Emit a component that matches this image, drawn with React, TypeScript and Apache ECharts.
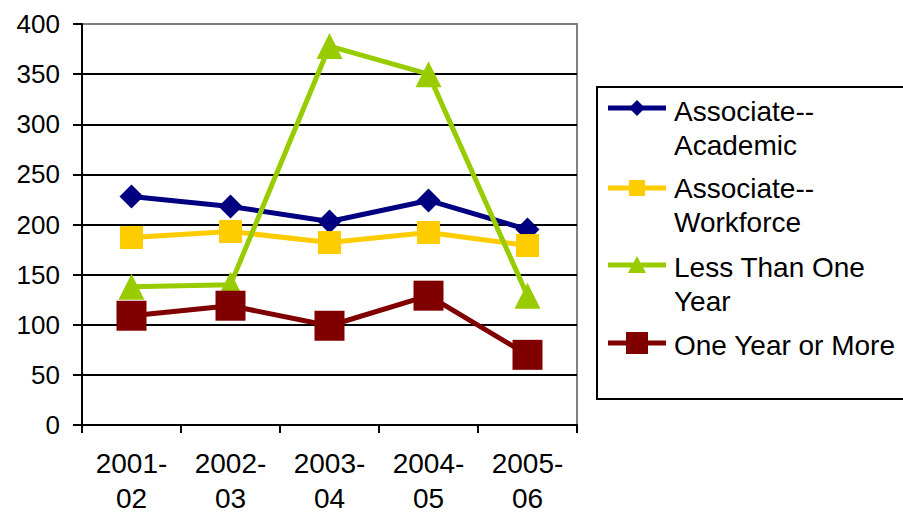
import React, { useEffect, useRef } from "react";
import * as echarts from "echarts";

const categories = ["2001-\n02", "2002-\n03", "2003-\n04", "2004-\n05", "2005-\n06"];
const seriesNames = ["Associate--Academic", "Associate--Workforce", "Less Than One Year", "One Year or More"];
const legendLabels = ["Associate--\nAcademic", "Associate--\nWorkforce", "Less Than One\nYear", "One Year or More"];
const academic = [228, 218, 203, 224, 195];
const workforce = [187, 193, 182, 192, 179];
const lessThanOne = [138, 140, 378, 350, 129];
const oneOrMore = [109, 119, 99, 129, 70];
const yTicks = { min: 0, max: 400, interval: 50 };

const colors = ["#000080", "#FFCC00", "#99CC00", "#800000"];
const symbols = ["diamond", "rect", "triangle", "rect"];
const symbolSizes = [24, 23, 26, 30];
const FONT = "'Liberation Sans', Arial, sans-serif";

function legendMarker(i: number, cx: number, cy: number) {
  const c = colors[i];
  if (i === 0) {
    const h = 8;
    return { type: "polygon", shape: { points: [[cx, cy - h], [cx + h, cy], [cx, cy + h], [cx - h, cy]] }, style: { fill: c } };
  }
  if (i === 1) {
    return { type: "rect", shape: { x: cx - 8, y: cy - 8, width: 16, height: 16 }, style: { fill: c } };
  }
  if (i === 2) {
    return { type: "polygon", shape: { points: [[cx, cy - 9], [cx + 9, cy + 8], [cx - 9, cy + 8]] }, style: { fill: c } };
  }
  return { type: "rect", shape: { x: cx - 11, y: cy - 11, width: 22, height: 22 }, style: { fill: c } };
}

export default function App() {
  const ref = useRef<HTMLDivElement>(null);
  useEffect(() => {
    if (!ref.current) return;
    const chart = echarts.init(ref.current, null, { renderer: "svg" });
    const data = [academic, workforce, lessThanOne, oneOrMore];
    const lineYs = [108, 188, 265, 343];
    const textTops = [94, 171, 250, 328];
    const graphics: any[] = [
      {
        type: "rect",
        shape: { x: 597, y: 87, width: 320, height: 312 },
        style: { fill: "#fff", stroke: "#000", lineWidth: 2 },
      },
    ];
    legendLabels.forEach((lab, i) => {
      graphics.push({
        type: "line",
        shape: { x1: 608, y1: lineYs[i], x2: 666, y2: lineYs[i] },
        style: { stroke: colors[i], lineWidth: 5 },
      });
      graphics.push(legendMarker(i, 637, lineYs[i]));
      graphics.push({
        type: "text",
        x: 674,
        y: textTops[i],
        style: {
          text: lab,
          fill: "#000",
          fontSize: 28,
          fontFamily: FONT,
          lineHeight: 34,
          verticalAlign: "top",
          align: "left",
        },
      });
    });

    chart.setOption({
      animation: false,
      textStyle: { fontFamily: FONT },
      grid: {
        left: 82,
        right: 326,
        top: 24,
        bottom: 87,
        show: true,
        borderColor: "#808080",
        borderWidth: 2,
        backgroundColor: "transparent",
      },
      xAxis: {
        type: "category",
        data: categories,
        boundaryGap: true,
        axisLine: { lineStyle: { color: "#000", width: 2 } },
        axisTick: { show: true, inside: false, length: 8, lineStyle: { color: "#000", width: 2 } },
        axisLabel: { color: "#000", fontSize: 28, lineHeight: 35, margin: 21, interval: 0, fontFamily: FONT },
        splitLine: { show: false },
      },
      yAxis: {
        type: "value",
        min: yTicks.min,
        max: yTicks.max,
        interval: yTicks.interval,
        axisLine: { show: true, lineStyle: { color: "#000", width: 2 } },
        axisTick: { show: true, length: 9, lineStyle: { color: "#000", width: 2 } },
        axisLabel: { color: "#000", fontSize: 26, margin: 22, fontFamily: FONT },
        splitLine: { show: true, showMaxLine: false, lineStyle: { color: "#000", width: 2 } },
      },
      graphic: graphics,
      series: seriesNames.map((name, i) => ({
        name,
        type: "line",
        data: data[i],
        symbol: symbols[i],
        symbolSize: symbolSizes[i],
        showAllSymbol: true,
        lineStyle: { color: colors[i], width: 5 },
        itemStyle: { color: colors[i] },
        z: 2 + i,
        silent: true,
      })),
    });
    return () => chart.dispose();
  }, []);
  return <div ref={ref} style={{ position: "absolute", left: 0, top: 0, width: 903, height: 516 }} />;
}
